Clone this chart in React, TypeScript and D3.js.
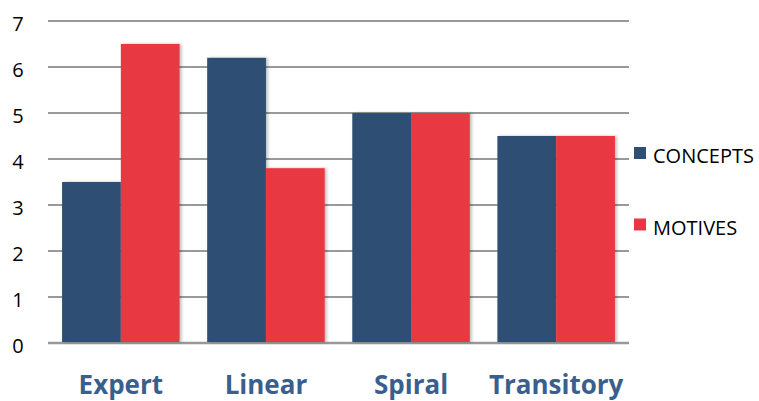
import React from "react";
import * as d3 from "d3";

const categories = ["Expert", "Linear", "Spiral", "Transitory"];
const seriesNames = ["CONCEPTS", "MOTIVES"];
const concepts = [3.5, 6.2, 5, 4.5];
const motives = [6.5, 3.8, 5, 4.5];
const yTicks = [0, 1, 2, 3, 4, 5, 6, 7];
const colors = ["#2E5073", "#E83743"];

export default function App() {
  const W = 759, H = 401;
  const left = 48, right = 629, top = 21, bottom = 343;
  const x = d3.scaleBand<string>().domain(categories).range([left, right]).paddingInner(0.19).paddingOuter(0.097);
  const xs = d3.scaleBand<string>().domain(seriesNames).range([0, x.bandwidth()]);
  const y = d3.scaleLinear().domain([0, 7]).range([bottom, top]);
  const data = [concepts, motives];
  return (
    <svg width={W} height={H} style={{ position: "absolute", left: 0, top: 0 }}>
      <defs>
        <filter id="sh" x="-20%" y="-10%" width="140%" height="120%">
          <feDropShadow dx="2" dy="0" stdDeviation="1.5" floodColor="#000" floodOpacity="0.25" />
        </filter>
      </defs>
      {yTicks.map((t) => (
        <g key={t}>
          <line x1={left} x2={right} y1={y(t)} y2={y(t)} stroke="#999" strokeWidth={t === 0 ? 2.5 : 2} />
          <text x={18} y={y(t) + 3} dy="0.36em" textAnchor="middle" fontFamily="'Open Sans', sans-serif" fontSize={20} fill="#000">{t}</text>
        </g>
      ))}
      {categories.map((c, i) => (
        <g key={c} transform={`translate(${x(c)},0)`} filter="url(#sh)">
          {seriesNames.map((s, j) => (
            <rect key={s} x={xs(s)} y={y(data[j][i])} width={xs.bandwidth()} height={y(0) - y(data[j][i]) - 1} fill={colors[j]} />
          ))}
        </g>
      ))}
      {categories.map((c) => (
        <text key={c} x={(x(c) as number) + x.bandwidth() / 2} y={394} textAnchor="middle" fontFamily="'Open Sans', sans-serif" fontWeight="bold" fontSize={26} fill="#3A5F8E">{c}</text>
      ))}
      {seriesNames.map((s, j) => (
        <g key={s} transform={`translate(634,${147 + j * 71.5})`}>
          <rect x={0} y={0} width={12} height={12} fill={colors[j]} />
          <text x={19} y={16} fontFamily="'Open Sans', sans-serif" fontSize={20} fill="#000">{s}</text>
        </g>
      ))}
    </svg>
  );
}
